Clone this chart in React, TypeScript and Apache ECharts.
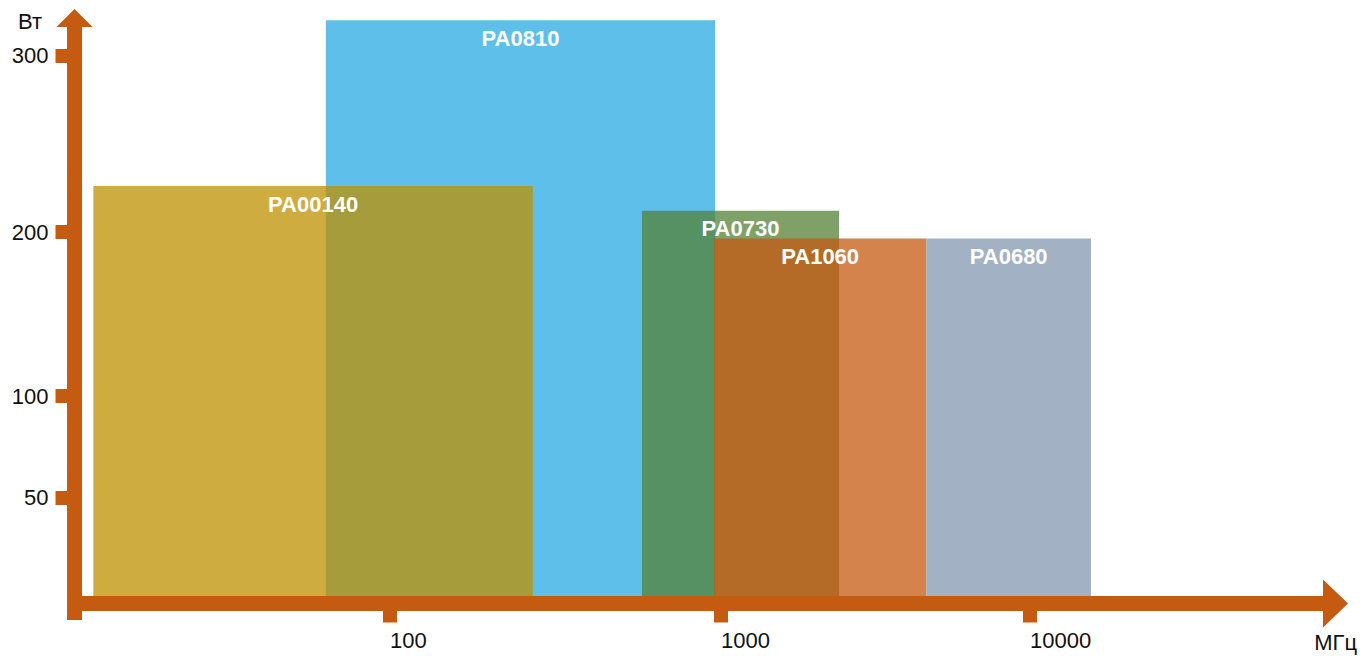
import React, { useEffect, useRef } from "react";
import * as echarts from "echarts";

// ---- data ----
const models = ["PA0810", "PA00140", "PA0730", "PA1060", "PA0680"];
const freqMinMHz = [64, 12.7, 577, 952, 4620];
const freqMaxMHz = [960, 270, 2410, 4620, 15750];
const powerW = [320, 226, 212, 196, 196];
const xTickMHz = [100, 1000, 10000];
const yTickW = [50, 100, 200, 300];

// ---- styles ----
const AXIS = "#C55A11";
const barColors = [
  "#5EBFEA",
  "rgba(191,144,0,0.75)",
  "rgba(84,130,53,0.75)",
  "rgba(197,90,17,0.75)",
  "rgba(132,151,176,0.75)",
];

// ---- scales (piecewise, as drawn in the original) ----
const xKnotLog = [1, 2, 3, 4, 5];
const xKnotPos = [-15.5, 315.5, 646.5, 955.5, 1264.5];
const yKnotW = [0, 50, 100, 200, 300, 400];
const yKnotPos = [0, 106, 207.5, 371.5, 548, 724.5];

function interp(v: number, xs: number[], ys: number[]) {
  let i = 0;
  while (i < xs.length - 2 && v > xs[i + 1]) i++;
  const t = (v - xs[i]) / (xs[i + 1] - xs[i]);
  return ys[i] + t * (ys[i + 1] - ys[i]);
}
const xScale = (mhz: number) => interp(Math.log10(mhz), xKnotLog, xKnotPos);
const yScale = (w: number) => interp(w, yKnotW, yKnotPos);

const FONT = '"Liberation Sans", Arial, sans-serif';

export default function App() {
  const ref = useRef<HTMLDivElement>(null);
  useEffect(() => {
    if (!ref.current) return;
    const chart = echarts.init(ref.current, null, { renderer: "svg" });
    const data = models.map((m, i) => [
      xScale(freqMinMHz[i]),
      xScale(freqMaxMHz[i]),
      yScale(powerW[i]),
      i,
    ]);
    const xTickPos = xTickMHz.map(xScale);
    const yTickPos = yTickW.map(yScale);
    const xLabel = (v: number) => {
      const k = xTickPos.findIndex((p) => Math.abs(p - v) < 0.01);
      return k >= 0 ? String(xTickMHz[k]) : "";
    };
    const yLabel = (v: number) => {
      const k = yTickPos.findIndex((p) => Math.abs(p - v) < 0.01);
      return k >= 0 ? String(yTickW[k]) : "";
    };
    chart.setOption({
      animation: false,
      grid: {
        left: 74.5,
        right: 27.5,
        top: 18,
        bottom: 36,
        containLabel: false,
        outerBoundsMode: "none",
      },
      xAxis: {
        type: "value",
        min: 0,
        max: 1261,
        z: 5,
        splitLine: { show: false },
        axisLine: {
          show: true,
          onZero: true,
          symbol: ["none", "triangle"],
          symbolSize: [48, 25],
          lineStyle: { color: AXIS, width: 15, cap: "butt" },
        },
        axisTick: {
          show: true,
          customValues: xTickPos,
          length: 19,
          lineStyle: { color: AXIS, width: 14, cap: "butt" },
        },
        axisLabel: {
          show: true,
          customValues: xTickPos,
          formatter: xLabel,
          align: "left",
          margin: 9,
          color: "#111",
          fontSize: 22,
          fontFamily: FONT,
        },
      },
      yAxis: {
        type: "value",
        min: -16.5,
        max: 585.5,
        z: 5,
        splitLine: { show: false },
        axisLine: {
          show: true,
          onZero: false,
          symbol: ["none", "triangle"],
          symbolSize: [36, 18],
          lineStyle: { color: AXIS, width: 15, cap: "butt" },
        },
        axisTick: {
          show: true,
          customValues: yTickPos,
          length: 19,
          lineStyle: { color: AXIS, width: 14, cap: "butt" },
        },
        axisLabel: {
          show: true,
          customValues: yTickPos,
          formatter: yLabel,
          margin: 26,
          color: "#111",
          fontSize: 22,
          fontFamily: FONT,
        },
      },
      graphic: [
        {
          type: "text",
          left: 18,
          top: 10,
          style: { text: "Вт", fill: "#111", font: `22px ${FONT}` },
        },
        {
          type: "text",
          right: 6,
          top: 631,
          style: { text: "МГц", fill: "#111", font: `22px ${FONT}` },
        },
      ],
      series: [
        {
          type: "custom",
          z: 1,
          data,
          renderItem: (params: any, api: any) => {
            const x0 = api.value(0);
            const x1 = api.value(1);
            const y = api.value(2);
            const idx = api.value(3);
            const p0 = api.coord([x0, 0]);
            const p1 = api.coord([x1, y]);
            return {
              type: "group",
              children: [
                {
                  type: "rect",
                  z2: idx,
                  shape: {
                    x: p0[0],
                    y: p1[1],
                    width: p1[0] - p0[0],
                    height: p0[1] - p1[1],
                  },
                  style: { fill: barColors[idx] },
                },
                {
                  type: "text",
                  z2: 100,
                  x: (p0[0] + p1[0]) / 2,
                  y: p1[1] + 18,
                  style: {
                    text: models[idx],
                    fill: "#fff",
                    font: `bold 22px ${FONT}`,
                    align: "center",
                    verticalAlign: "middle",
                  },
                },
              ],
            };
          },
        },
      ],
    });
    return () => chart.dispose();
  }, []);
  return (
    <div
      ref={ref}
      style={{ position: "absolute", left: 0, top: 0, width: 1363, height: 656 }}
    />
  );
}
